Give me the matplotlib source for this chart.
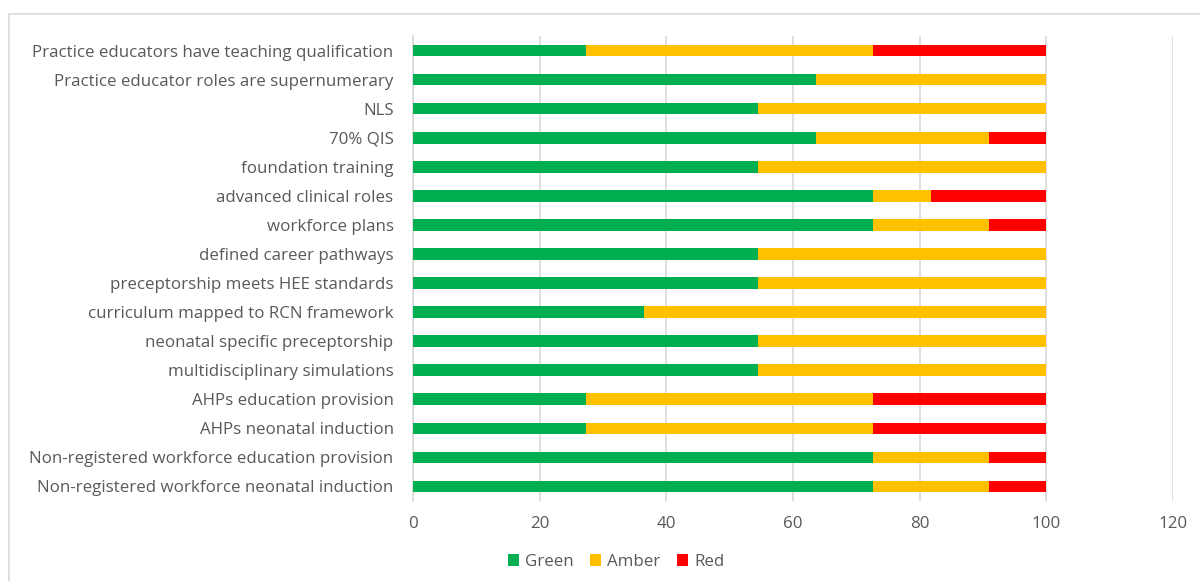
import matplotlib
matplotlib.use("Agg")
import matplotlib.pyplot as plt
from matplotlib.patches import Rectangle

categories = [
    "Practice educators have teaching qualification",
    "Practice educator roles are supernumerary",
    "NLS",
    "70% QIS",
    "foundation training",
    "advanced clinical roles",
    "workforce plans",
    "defined career pathways",
    "preceptorship meets HEE standards",
    "curriculum mapped to RCN framework",
    "neonatal specific preceptorship",
    "multidisciplinary simulations",
    "AHPs education provision",
    "AHPs neonatal induction",
    "Non-registered workforce education provision",
    "Non-registered workforce neonatal induction",
]
green = [27.3, 63.6, 54.5, 63.6, 54.5, 72.7, 72.7, 54.5, 54.5, 36.4, 54.5, 54.5, 27.3, 27.3, 72.7, 72.7]
amber = [45.4, 36.4, 45.5, 27.3, 45.5, 9.1, 18.2, 45.5, 45.5, 63.6, 45.5, 45.5, 45.4, 45.4, 18.2, 18.2]
red   = [27.3, 0, 0, 9.1, 0, 18.2, 9.1, 0, 0, 0, 0, 0, 27.3, 27.3, 9.1, 9.1]
xticks = [0, 20, 40, 60, 80, 100, 120]

plt.rcParams['font.family'] = ['Open Sans', 'DejaVu Sans']

fig = plt.figure(figsize=(12, 5.81), dpi=100)
fig.patches.append(Rectangle((9/1200, -0.05), 1.2, 1 - 14/581 + 0.05, transform=fig.transFigure,
                             fill=False, edgecolor='#d9d9d9', linewidth=1.2))
ax = fig.add_axes([413/1200, 1 - 501/581, (1173 - 413)/1200, (501 - 36)/581])

y = list(range(len(categories)))
h = 0.4
ax.barh(y, green, height=h, color='#00B050', label='Green', zorder=3)
left2 = [g for g in green]
ax.barh(y, amber, left=left2, height=h, color='#FFC000', label='Amber', zorder=3)
left3 = [g + a for g, a in zip(green, amber)]
ax.barh(y, red, left=left3, height=h, color='#FF0000', label='Red', zorder=3)

ax.set_ylim(len(categories) - 0.5, -0.5)
ax.set_xlim(0, 120)
ax.set_xticks(xticks)
ax.set_yticks(y)
ax.set_yticklabels(categories)
ax.grid(axis='x', color='#d9d9d9', linewidth=1.2, zorder=0)
for s in ['top', 'right', 'bottom']:
    ax.spines[s].set_visible(False)
ax.spines['left'].set_color('#d9d9d9')
ax.spines['left'].set_linewidth(1.2)
ax.tick_params(axis='both', length=0, colors='#595959', labelsize=12.2)
ax.tick_params(axis='x', pad=11)
ax.tick_params(axis='y', pad=14)

ax.legend(loc='center', bbox_to_anchor=(616/1200, 1 - 562/581), bbox_transform=fig.transFigure,
          ncol=3, frameon=False, fontsize=12.2, labelcolor='#595959',
          handlelength=0.65, handleheight=0.65, handletextpad=0.35, columnspacing=1.0)

fig.savefig('out.png', dpi=100)
